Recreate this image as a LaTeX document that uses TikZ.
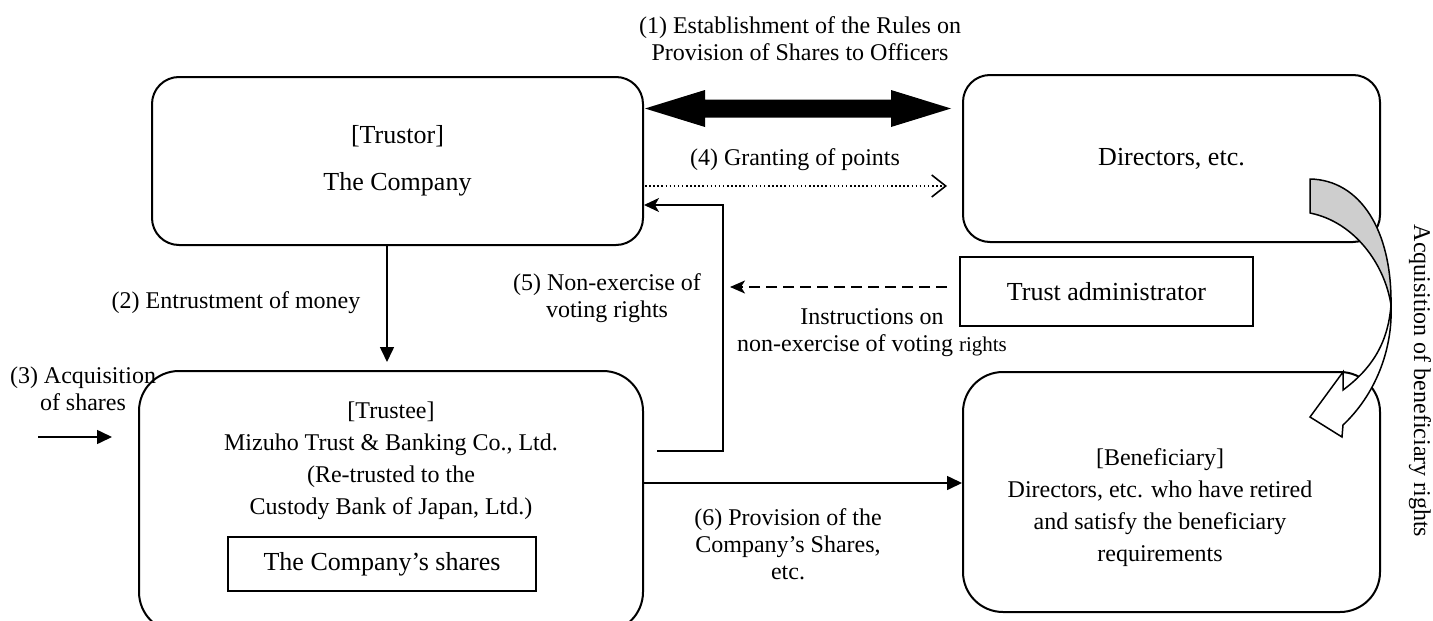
\documentclass[tikz,border=0pt]{standalone}
\usepackage{fontspec}
\setmainfont{Liberation Serif}
\usetikzlibrary{arrows.meta,calc}
\definecolor{arrowgray}{RGB}{206,206,206}
\begin{document}
\begin{tikzpicture}[x=1pt,y=-1pt,
  box/.style={draw, line width=2pt, rounded corners=27pt, inner sep=0pt},
  bigbox/.style={draw, line width=2pt, rounded corners=40pt, inner sep=0pt},
  sqbox/.style={draw, line width=2pt, inner sep=0pt},
  lbl/.style={font=\fontsize{24pt}{27pt}\selectfont, align=center, inner sep=0pt},
  boxtext/.style={font=\fontsize{26pt}{31pt}\selectfont, align=center},
  bodytext/.style={font=\fontsize{24pt}{32pt}\selectfont, align=center, inner sep=0pt},
  conn/.style={line width=1.6pt},
  tri/.style={-{Triangle[length=15pt,width=14pt]}},
  stl/.style={-{Stealth[length=15pt,width=14pt,inset=4pt]}},
]
\useasboundingbox (0,0) rectangle (1433,621);

% boxes
\node[box, boxtext, minimum width=491pt, minimum height=168pt] (trustor) at (397.5,161)
  {[Trustor]\\[16pt]The Company};
\node[box, boxtext, minimum width=417pt, minimum height=167pt] (directors) at (1171.5,158.5)
  {Directors, etc.};
\node[sqbox, boxtext, minimum width=293pt, minimum height=69pt] (trustadm) at (1106.5,291.5)
  {Trust administrator};
\node[bigbox, minimum width=504pt, minimum height=261pt] (trustee) at (391,501.5) {};
\node[bodytext] (trusteetext) at (391,460.5)
  {[Trustee]\\Mizuho Trust \& Banking Co., Ltd.\\(Re-trusted to the\\Custody Bank of Japan, Ltd.)};
\node[sqbox, boxtext, minimum width=308pt, minimum height=54pt] (shares) at (382,564)
  {The Company’s shares};
\node[bigbox, minimum width=417pt, minimum height=240pt] (benef) at (1171.5,492) {};
\node[bodytext] (beneftext) at (1160,507.5)
  {[Beneficiary]\\Directors, etc. who have retired\\and satisfy the beneficiary\\requirements};

% labels
\node[lbl] (l1) at (800,38.5) {(1) Establishment of the Rules on\\Provision of Shares to Officers};
\node[lbl] (l4) at (795,160) {(4) Granting of points};
\node[lbl] (l2) at (236,303) {(2) Entrustment of money};
\node[lbl] (l3) at (83,388.5) {(3) Acquisition\\of shares};
\node[lbl] (l5) at (607,298.5) {(5) Non-exercise of\\voting rights};
\node[lbl] (li) at (872,333) {Instructions on\\non-exercise of voting {\fontsize{21pt}{27pt}\selectfont rights}};
\node[lbl] (l6) at (788,544.5) {(6) Provision of the\\Company’s Shares,\\etc.};
\node[lbl, rotate=-90] (lacq) at (1420,381) {Acquisition of beneficiary rights};

% (1) thick double arrow
\coordinate (dal) at ([xshift=1pt]trustor.east |- 0,108.5);
\coordinate (dar) at ([xshift=-11pt]directors.west |- 0,108.5);
\fill (dal) -- ++(60,-18.5) -- ++(0,9.5) -- ($(dar)+(-60,-9)$) -- ++(0,-9.5) -- (dar)
  -- ++(-60,18.5) -- ++(0,-9.5) -- ($(dal)+(60,9)$) -- ++(0,9.5) -- cycle;

% (4) dotted
\coordinate (d4s) at ([xshift=1pt]trustor.east |- 0,186);
\coordinate (d4e) at ([xshift=-15pt]directors.west |- 0,186);
\draw[line width=1.5pt, dash pattern=on 1.5pt off 2.6pt,
  -{Straight Barb[length=14pt,width=22pt,line width=1.6pt]}] (d4s) -- (d4e);

% (5)
\coordinate (c5s) at (657,451);
\coordinate (c5turn) at (723,205);
\draw[conn, stl] (c5s) -| (c5turn) -- (trustor.east |- c5turn);

% instructions dashed
\coordinate (dsh) at ([xshift=-12pt]trustadm.west |- 0,287);
\coordinate (dshe) at ([xshift=7pt]c5turn |- dsh);
\draw[conn, dash pattern=on 11pt off 6pt, -{Stealth[length=15pt,width=13pt,inset=4pt]}] (dsh) -- (dshe);

% (2)
\draw[conn, tri] ([xshift=-10.5pt]trustor.south) -- ([xshift=-4pt,yshift=8pt]trustee.north);

% (3)
\coordinate (c3s) at (38,437);
\draw[conn, tri] (c3s) -- ([xshift=-26pt]trustee.west |- c3s);

% (6)
\coordinate (c6) at (0,483);
\draw[conn, tri] (trustee.east |- c6) -- (benef.west |- c6);

% curved block arrow
\draw[line width=1.5pt, fill=arrowgray, line join=round]
  (1310,179) .. controls (1360,180) and (1392,230) .. (1391,305)
  .. controls (1385,265) and (1355,222) .. (1310,213) -- cycle;
\draw[line width=1.5pt, fill=white, line join=miter]
  (1391,305) .. controls (1393,350) and (1375,395) .. (1343,425)
  -- (1342,437) -- (1310,417) -- (1343,372) -- (1343,390)
  .. controls (1370,370) and (1388,345) .. (1391,305) -- cycle;
\end{tikzpicture}
\end{document}
